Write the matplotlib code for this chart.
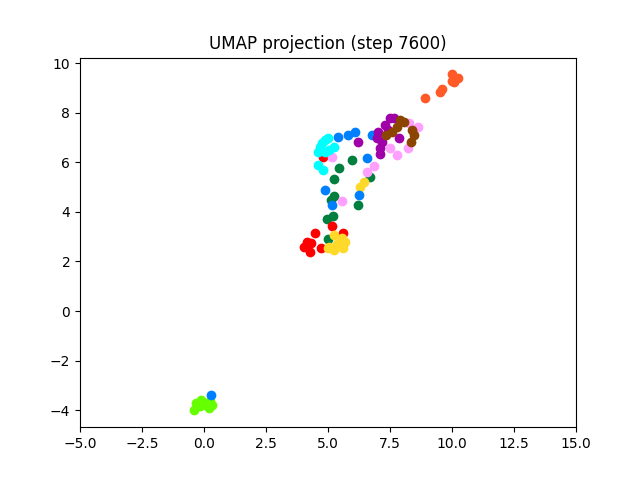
import matplotlib
matplotlib.use("Agg")
import matplotlib.pyplot as plt

# cluster points (x, y in UMAP units)
lime_x = [-0.31, -0.39, -0.11, 0.09, 0.33, -0.15, 0.20, 0.25]
lime_y = [-3.71, -4.01, -3.59, -3.79, -3.79, -3.85, -3.90, -3.65]

green_x = [5.95, 5.46, 5.26, 6.68, 5.26, 5.14, 6.19, 4.94, 5.22, 5.02]
green_y = [6.09, 5.77, 5.32, 5.40, 4.64, 4.48, 4.27, 3.71, 3.83, 2.90]

red_x = [5.18, 4.49, 4.17, 4.05, 4.33, 4.29, 4.70, 5.59, 4.78]
red_y = [3.43, 3.15, 2.78, 2.58, 2.74, 2.38, 2.54, 3.15, 6.21]

yellow_x = [6.47, 6.31, 5.26, 5.55, 5.67, 5.59, 5.26, 5.06, 4.98, 5.38]
yellow_y = [5.20, 5.00, 3.06, 2.94, 2.78, 2.54, 2.46, 2.58, 2.54, 2.70]

pink_x = [8.25, 8.62, 7.48, 7.77, 8.21, 6.85, 5.18, 6.56, 5.55]
pink_y = [7.58, 7.42, 6.57, 6.29, 6.57, 5.85, 6.21, 5.60, 4.44]

cyan_x = [4.86, 5.02, 4.74, 5.26, 4.58, 4.86, 5.06, 4.58, 4.78, 4.66]
cyan_y = [6.90, 6.98, 6.77, 6.61, 6.41, 6.41, 6.49, 5.89, 5.69, 6.61]

blue_x = [5.42, 5.79, 6.07, 6.76, 6.56, 4.86, 5.18, 6.23, 0.29]
blue_y = [7.02, 7.10, 7.22, 7.10, 6.17, 4.88, 4.27, 4.68, -3.39]

purple_x = [6.19, 7.48, 7.65, 7.28, 7.00, 6.96, 7.16, 7.08, 7.08, 7.85, 7.40]
purple_y = [6.81, 7.78, 7.78, 7.50, 7.22, 6.98, 6.81, 6.57, 6.33, 6.98, 7.30]

brown_x = [7.89, 8.05, 7.77, 7.57, 7.32, 8.37, 8.45, 8.33]
brown_y = [7.70, 7.62, 7.42, 7.22, 7.10, 7.30, 7.10, 6.81]

orange_x = [8.90, 9.50, 9.60, 10.00, 10.25, 10.10, 10.00]
orange_y = [8.60, 8.85, 8.95, 9.55, 9.40, 9.25, 9.30]

groups = [
    (lime_x, lime_y, "#66ff00"),
    (green_x, green_y, "#007f3f"),
    (red_x, red_y, "#ff0000"),
    (yellow_x, yellow_y, "#ffd92a"),
    (pink_x, pink_y, "#ffa0ff"),
    (cyan_x, cyan_y, "#00ffff"),
    (blue_x, blue_y, "#0080ff"),
    (purple_x, purple_y, "#a000a8"),
    (brown_x, brown_y, "#8b4500"),
    (orange_x, orange_y, "#ff5a28"),
]

fig, ax = plt.subplots(figsize=(6.4, 4.8), dpi=100)
for xs, ys, c in groups:
    ax.scatter(xs, ys, c=c)

ax.set_xlim(-5, 15)
ax.set_title("UMAP projection (step 7600)")

plt.savefig("out.png", dpi=100)
